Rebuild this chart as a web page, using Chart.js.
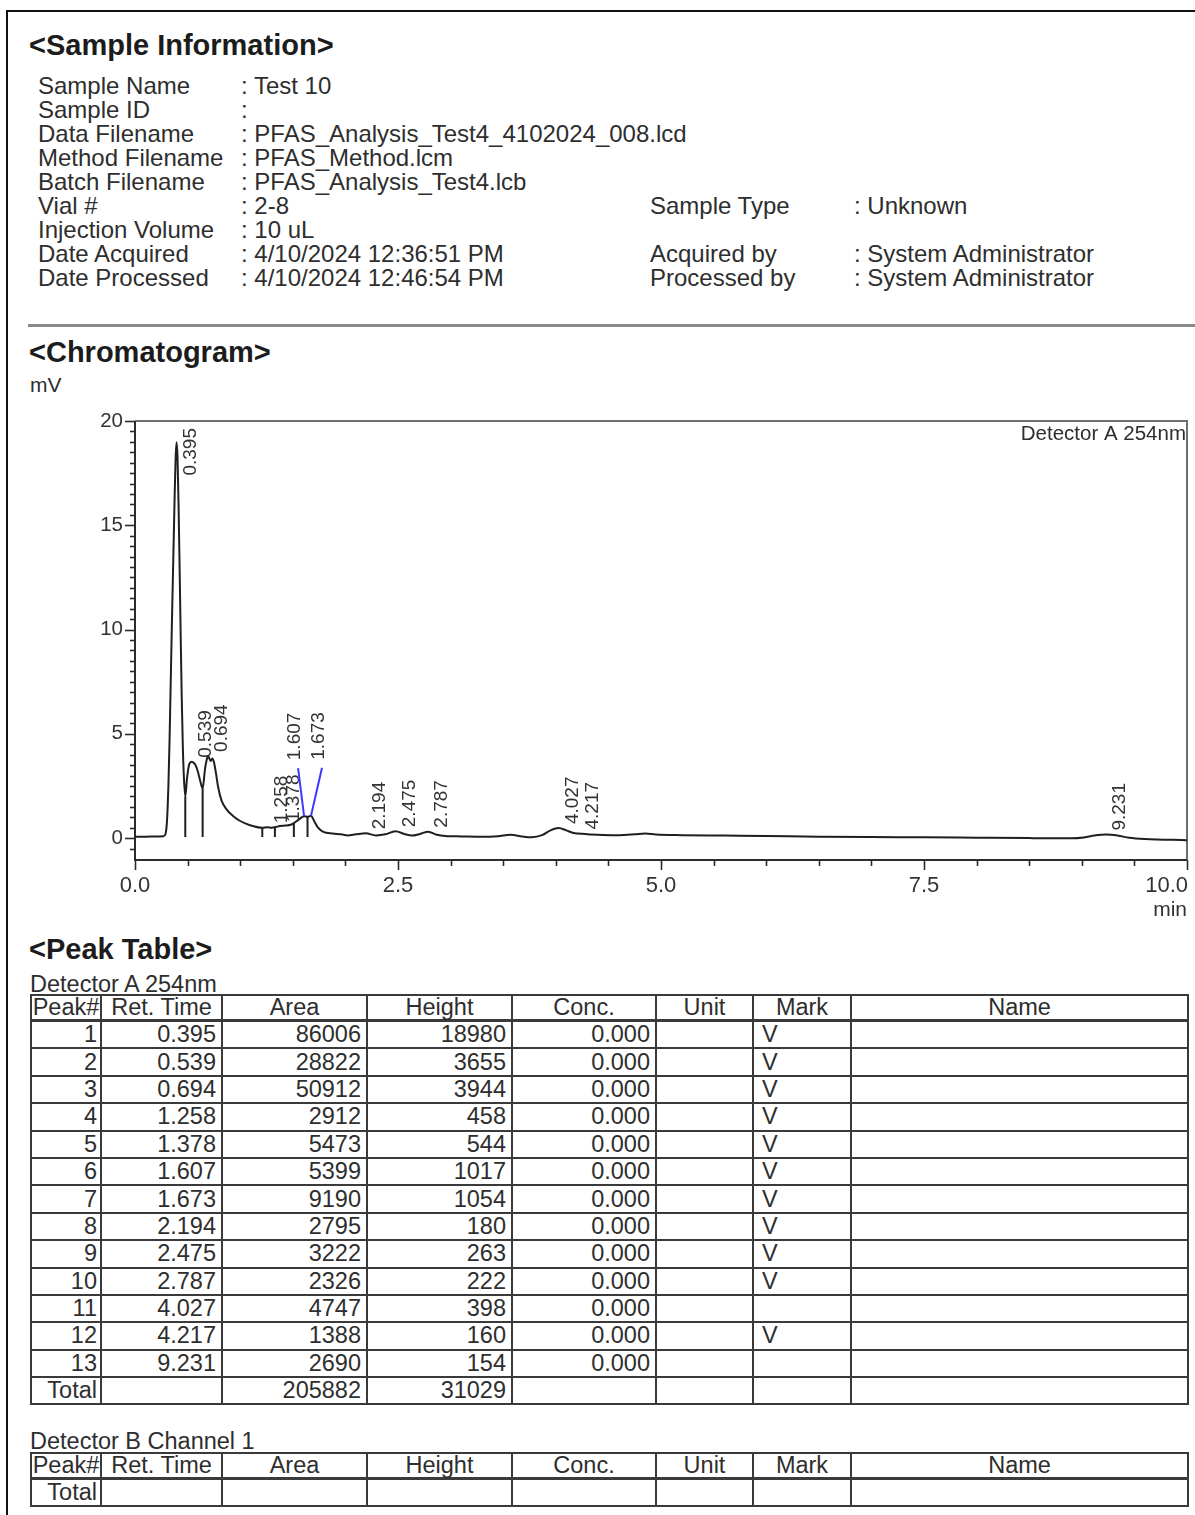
<!DOCTYPE html>
<html>
<head>
<meta charset="utf-8">
<title>Sample Report</title>
<script src="https://cdn.jsdelivr.net/npm/chart.js@4.4.1/dist/chart.umd.min.js"></script>
<style>
html,body{margin:0;padding:0;background:#fff;}
body{width:1195px;height:1515px;position:relative;overflow:hidden;font-family:"Liberation Sans",Arial,Helvetica,sans-serif;color:#2e2e2e;}
.frame{position:absolute;left:6px;top:10px;width:1200px;height:1520px;border-top:2px solid #111;border-left:2px solid #111;}
.h{position:absolute;left:29px;font-weight:bold;font-size:29px;line-height:32px;color:#1c1c1c;white-space:nowrap;}
.info{position:absolute;font-size:24px;line-height:24px;white-space:nowrap;}
.info .row{height:24px;position:relative;}
.info .k{position:absolute;left:0;top:0;}
.info .v{position:absolute;top:0;}
.sep{position:absolute;left:28px;top:324px;width:1167px;height:3px;background:#8a8a8a;}
.unit{position:absolute;left:30px;top:373px;font-size:21px;line-height:24px;}
.cap{position:absolute;left:30px;font-size:23.5px;line-height:24px;white-space:nowrap;}
table.pk{position:absolute;left:30px;width:1157px;border-collapse:collapse;table-layout:fixed;font-size:23.5px;}
table.pk td,table.pk th{border:2px solid #3a3a3a;padding:0 5px;height:25.4px;line-height:25px;font-weight:normal;white-space:nowrap;overflow:visible;}
table.pk th{text-align:center;padding:0;height:23px;line-height:23px;}
table.pk tr.hd th{border-bottom:3px solid #3a3a3a;}
table.pk td.n{text-align:right;}
table.pk td.m{text-align:left;padding-left:8px;}
</style>
</head>
<body>
<div class="frame"></div>

<div class="h" style="top:29px">&lt;Sample Information&gt;</div>
<div class="info" id="infoL" style="left:38px;top:74px;"></div>
<div class="info" id="infoR" style="left:650px;top:194px;"></div>
<div class="sep"></div>

<div class="h" style="top:336px">&lt;Chromatogram&gt;</div>
<div class="unit">mV</div>
<canvas id="chrom" width="1195" height="530" style="position:absolute;left:0;top:395px;width:1195px;height:530px;"></canvas>

<div class="h" style="top:933px">&lt;Peak Table&gt;</div>
<div class="cap" style="top:972px">Detector A 254nm</div>
<table class="pk" id="tblA" style="top:994px"></table>
<div class="cap" style="top:1429px">Detector B Channel 1</div>
<table class="pk" id="tblB" style="top:1452px"></table>

<script>
// ---- report header ----
const infoLeftKeys = ['Sample Name', 'Sample ID', 'Data Filename', 'Method Filename', 'Batch Filename',
  'Vial #', 'Injection Volume', 'Date Acquired', 'Date Processed'];
const infoLeftVals = ['Test 10', '', 'PFAS_Analysis_Test4_4102024_008.lcd', 'PFAS_Method.lcm',
  'PFAS_Analysis_Test4.lcb', '2-8', '10 uL', '4/10/2024 12:36:51 PM', '4/10/2024 12:46:54 PM'];
const infoRightKeys = ['Sample Type', '', 'Acquired by', 'Processed by'];
const infoRightVals = ['Unknown', null, 'System Administrator', 'System Administrator'];

// ---- peak table (Detector A 254nm) ----
const retTimes = [0.395, 0.539, 0.694, 1.258, 1.378, 1.607, 1.673, 2.194, 2.475, 2.787, 4.027, 4.217, 9.231];
const areas    = [86006, 28822, 50912, 2912, 5473, 5399, 9190, 2795, 3222, 2326, 4747, 1388, 2690];
const heights  = [18980, 3655, 3944, 458, 544, 1017, 1054, 180, 263, 222, 398, 160, 154];
const concs    = [0, 0, 0, 0, 0, 0, 0, 0, 0, 0, 0, 0, 0];
const marks    = ['V', 'V', 'V', 'V', 'V', 'V', 'V', 'V', 'V', 'V', '', 'V', ''];
const tableHeads = ['Peak#', 'Ret. Time', 'Area', 'Height', 'Conc.', 'Unit', 'Mark', 'Name'];

// ---- detector trace (min, mV) ----
const traceTime = [0.00, 0.10, 0.20, 0.27, 0.29, 0.305, 0.318, 0.328, 0.340, 0.352, 0.364, 0.376, 0.386,
  0.395, 0.404, 0.414, 0.424, 0.434, 0.444, 0.455, 0.466, 0.478, 0.495, 0.516, 0.539, 0.560, 0.580,
  0.600, 0.622, 0.643, 0.665, 0.681, 0.694, 0.708, 0.720, 0.735, 0.750, 0.770, 0.790, 0.823, 0.870,
  0.935, 1.000, 1.093, 1.210, 1.258, 1.300, 1.330, 1.378, 1.430, 1.480, 1.510, 1.560, 1.607, 1.640,
  1.673, 1.705, 1.740, 1.790, 1.880, 1.960, 2.020, 2.100, 2.194, 2.290, 2.380, 2.475, 2.560, 2.630,
  2.710, 2.787, 2.870, 2.950, 3.100, 3.300, 3.450, 3.570, 3.680, 3.770, 3.870, 3.950, 4.027, 4.100,
  4.170, 4.217, 4.300, 4.450, 4.600, 4.750, 4.850, 4.950, 5.200, 5.600, 6.000, 6.500, 7.000, 7.500,
  8.000, 8.500, 8.900, 9.020, 9.120, 9.231, 9.340, 9.450, 9.600, 10.00];
const traceMv = [0.07, 0.07, 0.08, 0.09, 0.20, 0.90, 2.60, 4.60, 7.60, 10.6, 13.4, 16.2, 18.2,
  18.98, 18.3, 16.0, 13.0, 9.80, 6.80, 4.30, 2.80, 2.00, 2.90, 3.55, 3.66, 3.60, 3.45,
  3.15, 2.70, 2.38, 3.30, 3.75, 3.94, 3.80, 3.70, 3.82, 3.65, 3.10, 2.45, 1.80, 1.38,
  1.05, 0.82, 0.62, 0.50, 0.52, 0.50, 0.52, 0.58, 0.60, 0.64, 0.72, 0.90, 1.05, 1.02,
  1.07, 0.80, 0.50, 0.30, 0.22, 0.18, 0.13, 0.18, 0.23, 0.13, 0.18, 0.33, 0.20, 0.12,
  0.20, 0.31, 0.16, 0.10, 0.08, 0.06, 0.09, 0.16, 0.08, 0.04, 0.14, 0.37, 0.48, 0.37,
  0.24, 0.22, 0.18, 0.15, 0.14, 0.18, 0.22, 0.17, 0.14, 0.12, 0.10, 0.07, 0.05, 0.04,
  0.02, 0.00, -0.01, 0.03, 0.12, 0.17, 0.12, 0.02, -0.04, -0.10];

// valleys where unresolved peaks are split by a vertical drop line
const dropTimes = [0.478, 0.643, 1.210, 1.330, 1.510, 1.640];

// axis tick labels
const xTickLabels = ['0.0', '2.5', '5.0', '7.5', '10.0'];
const yTickLabels = ['0', '5', '10', '15', '20'];

// ---------- header ----------
function fillInfo(el, keys, vals, valueLeft) {
  keys.forEach((k, i) => {
    const row = document.createElement('div');
    row.className = 'row';
    const kd = document.createElement('span'); kd.className = 'k'; kd.textContent = k;
    row.appendChild(kd);
    if (vals[i] !== null) {
      const vd = document.createElement('span'); vd.className = 'v';
      vd.style.left = valueLeft + 'px';
      vd.textContent = ': ' + vals[i];
      row.appendChild(vd);
    }
    el.appendChild(row);
  });
}
fillInfo(document.getElementById('infoL'), infoLeftKeys, infoLeftVals, 203);
fillInfo(document.getElementById('infoR'), infoRightKeys, infoRightVals, 204);

// ---------- tables ----------
const colWidths = [70, 121, 145, 145, 144, 97, 98, 337];
function buildTable(tbl, rows) {
  const cg = document.createElement('colgroup');
  colWidths.forEach(w => { const c = document.createElement('col'); c.style.width = w + 'px'; cg.appendChild(c); });
  tbl.appendChild(cg);
  const hr = document.createElement('tr'); hr.className = 'hd';
  tableHeads.forEach(h => { const th = document.createElement('th'); th.textContent = h; hr.appendChild(th); });
  tbl.appendChild(hr);
  rows.forEach(r => {
    const tr = document.createElement('tr');
    r.forEach((c, j) => {
      const td = document.createElement('td');
      td.textContent = c;
      td.className = (j === 6) ? 'm' : 'n';
      if (j === 0) td.style.paddingRight = '3px';
      tr.appendChild(td);
    });
    tbl.appendChild(tr);
  });
}
const rowsA = retTimes.map((t, i) => [String(i + 1), t.toFixed(3), String(areas[i]), String(heights[i]),
  concs[i].toFixed(3), '', marks[i], '']);
rowsA.push(['Total', '', String(areas.reduce((a, b) => a + b, 0)), String(heights.reduce((a, b) => a + b, 0)), '', '', '', '']);
buildTable(document.getElementById('tblA'), rowsA);
buildTable(document.getElementById('tblB'), [['Total', '', '', '', '', '', '', '']]);

// ---------- chromatogram ----------
function traceAt(t) {
  for (let i = 1; i < traceTime.length; i++) {
    if (t <= traceTime[i]) {
      const f = (t - traceTime[i - 1]) / (traceTime[i] - traceTime[i - 1]);
      return traceMv[i - 1] + f * (traceMv[i] - traceMv[i - 1]);
    }
  }
  return traceMv[traceMv.length - 1];
}

const tracePoints = traceTime.map((t, i) => ({ x: t, y: traceMv[i] }));
const dropPoints = [];
dropTimes.forEach(t => {
  dropPoints.push({ x: t, y: traceAt(t) }, { x: t, y: 0.05 }, { x: t, y: null });
});

const FONT = '"Liberation Sans", Arial, sans-serif';

const chromDecor = {
  id: 'chromDecor',
  beforeDatasetsDraw(chart) {
    const { ctx, chartArea: a, scales: { x, y } } = chart;
    ctx.save();
    // frame: axis sides darker, opposite sides lighter
    ctx.lineWidth = 2;
    ctx.strokeStyle = '#6e6e6e';
    ctx.beginPath();
    ctx.moveTo(a.left, a.top); ctx.lineTo(a.right, a.top); ctx.lineTo(a.right, a.bottom);
    ctx.stroke();
    ctx.strokeStyle = '#2c2c2c';
    ctx.beginPath();
    ctx.moveTo(a.left, a.top); ctx.lineTo(a.left, a.bottom); ctx.lineTo(a.right, a.bottom);
    ctx.stroke();

    // y tick marks: 0.5 mV minor, 5 mV major
    ctx.lineWidth = 1.6;
    ctx.strokeStyle = '#2c2c2c';
    for (let k = -1; k <= 40; k++) {
      const v = k * 0.5;
      const py = Math.round(y.getPixelForValue(v)) + 0.5;
      if (py > a.bottom - 2) continue;
      const len = (k % 10 === 0) ? 10 : 5;
      ctx.beginPath(); ctx.moveTo(a.left - len, py); ctx.lineTo(a.left, py); ctx.stroke();
    }
    // x tick marks: 0.5 min minor, 2.5 min major
    for (let k = 0; k <= 20; k++) {
      const px = Math.round(x.getPixelForValue(k * 0.5)) + 0.5;
      const len = (k % 5 === 0) ? 10 : 6;
      ctx.beginPath(); ctx.moveTo(px, a.bottom); ctx.lineTo(px, a.bottom + len); ctx.stroke();
    }
    // x tick labels
    ctx.fillStyle = '#333';
    ctx.font = '22px ' + FONT;
    ctx.textBaseline = 'middle';
    xTickLabels.forEach((lab, i) => {
      const v = parseFloat(lab);
      const px = x.getPixelForValue(v);
      if (i === xTickLabels.length - 1) { ctx.textAlign = 'right'; ctx.fillText(lab, px + 1, a.bottom + 26); }
      else { ctx.textAlign = 'center'; ctx.fillText(lab, px, a.bottom + 26); }
    });
    // detector caption
    ctx.font = '20.5px ' + FONT;
    ctx.textAlign = 'right';
    ctx.fillStyle = '#2e2e2e';
    ctx.fillText('Detector A 254nm', a.right - 1, a.top + 13);
    ctx.restore();
  },
  afterDatasetsDraw(chart, args, opts) {
    const { ctx, chartArea: a, scales: { x, y } } = chart;
    const nudge = opts.nudge || {};
    ctx.save();
    ctx.font = '19px ' + FONT;
    ctx.fillStyle = '#333';
    ctx.textAlign = 'left';
    ctx.textBaseline = 'middle';
    retTimes.forEach((t, i) => {
      const lab = t.toFixed(3);
      const ax = x.getPixelForValue(t);
      const ay = y.getPixelForValue(traceAt(t));
      const n = nudge[i] || { dx: 0, lift: 0 };
      const w = ctx.measureText(lab).width;
      const lx = ax + 14 + n.dx;
      let bottom = ay - 4 - n.lift;
      if (bottom - w < a.top + 7) bottom = a.top + 7 + w;
      if (n.lift > 0) {
        ctx.save();
        ctx.strokeStyle = '#3b3bff';
        ctx.lineWidth = 2;
        ctx.beginPath(); ctx.moveTo(lx + 3, bottom + 8); ctx.lineTo(ax, ay); ctx.stroke();
        ctx.restore();
      }
      ctx.save();
      ctx.translate(lx, bottom);
      ctx.rotate(-Math.PI / 2);
      ctx.fillText(lab, 0, 0);
      ctx.restore();
    });
    ctx.restore();
  }
};

new Chart(document.getElementById('chrom'), {
  type: 'line',
  data: {
    datasets: [
      {
        label: 'Detector A 254nm',
        data: tracePoints,
        borderColor: '#1f1f1f',
        borderWidth: 2,
        pointRadius: 0,
        cubicInterpolationMode: 'monotone',
        fill: false
      },
      {
        label: 'drop lines',
        data: dropPoints,
        borderColor: '#1f1f1f',
        borderWidth: 2,
        pointRadius: 0,
        tension: 0,
        spanGaps: false,
        fill: false
      }
    ]
  },
  options: {
    responsive: false,
    animation: false,
    devicePixelRatio: 1,
    layout: { padding: { top: 26, right: 8, left: 0, bottom: 0 } },
    plugins: {
      legend: { display: false },
      tooltip: { enabled: false },
      chromDecor: { nudge: { 5: { dx: -23, lift: 52 }, 6: { dx: -6, lift: 52 } } }
    },
    scales: {
      x: {
        type: 'linear',
        min: 0, max: 10,
        grid: { display: false, drawTicks: false },
        border: { display: false },
        ticks: { display: false },
        title: { display: true, text: 'min', align: 'end', color: '#333',
          font: { size: 21, family: FONT }, padding: { top: 0, bottom: 2 } },
        afterFit(s) { s.height = 65; }
      },
      y: {
        type: 'linear',
        min: -1.05, max: 20,
        grid: { display: false, drawTicks: false },
        border: { display: false },
        afterBuildTicks(s) {
          s.ticks = yTickLabels.map(v => ({ value: parseFloat(v) }));
        },
        ticks: {
          color: '#333',
          padding: 12,
          font: { size: 20.5, family: FONT },
          callback: (v) => String(v)
        },
        afterFit(s) { s.width = 135; }
      }
    }
  },
  plugins: [chromDecor]
});
</script>
</body>
</html>
